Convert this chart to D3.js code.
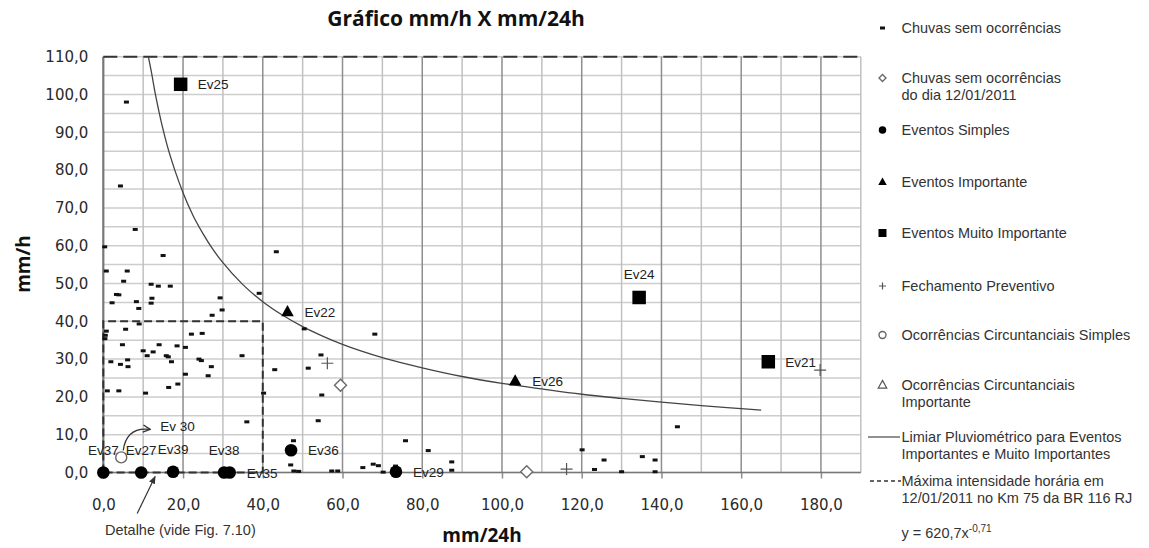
<!DOCTYPE html>
<html>
<head>
<meta charset="utf-8">
<script src="https://cdn.jsdelivr.net/npm/d3@7"></script>
<style>
  body { margin: 0; background: #fff; }
  svg { display: block; }
</style>
</head>
<body>
<div id="chart"></div>
<script>
// valores: [mm/24h, mm/h]
const chuvasSemOcorrencias = [
  [5.8, 98.0], [4.3, 75.8], [8.0, 64.3], [0.35, 59.7], [15.0, 57.4], [43.4, 58.4],
  [0.75, 53.3], [6.0, 53.3], [5.1, 50.6], [12.0, 49.8], [13.8, 49.3], [16.8, 49.3],
  [3.3, 47.1], [3.9, 47.0], [2.2, 44.9], [8.3, 45.2], [12.2, 46.1], [12.0, 44.8],
  [8.9, 43.4], [39.1, 47.4], [29.3, 46.2], [29.8, 43.0], [27.3, 41.6], [0.75, 37.4],
  [0.5, 36.3], [0.4, 35.4], [5.6, 37.9], [9.0, 39.3], [22.1, 36.6], [24.8, 36.8],
  [4.8, 33.8], [14.0, 33.8], [18.5, 33.5], [20.6, 33.1], [10.0, 32.2], [12.5, 31.9],
  [11.0, 30.9], [15.8, 30.9], [16.3, 30.6], [17.1, 29.3], [24.0, 30.0], [24.6, 29.6],
  [34.8, 30.9], [1.9, 29.3], [4.3, 28.6], [6.1, 29.8], [6.2, 28.0], [27.1, 28.0],
  [43.0, 27.2], [1.0, 21.6], [3.9, 21.6], [10.6, 21.0], [16.4, 22.5], [18.7, 23.4],
  [20.6, 26.0], [26.3, 25.6], [40.2, 21.0], [36.0, 13.4], [50.4, 38.0], [68.1, 36.6],
  [54.6, 31.1], [51.4, 27.6], [54.8, 20.5], [53.9, 13.7], [47.7, 8.4], [75.8, 8.4],
  [81.5, 5.8], [47.0, 2.0], [47.8, 0.4], [49.0, 0.3], [57.3, 0.4], [58.8, 0.4],
  [65.1, 1.3], [67.7, 2.2], [69.0, 1.8], [70.2, 0.1], [73.3, 1.7], [87.4, 0.6],
  [87.4, 2.8], [120.1, 6.0], [123.2, 0.8], [125.6, 3.3], [130.0, 0.2], [135.2, 4.2],
  [138.4, 3.3], [138.4, 0.2], [144.0, 12.1]
];
const chuvasDia12 = [[59.5, 23.1], [106.2, 0.2]];
const eventosSimples = [
  { nome: 'Ev37', x: 0.0, y: 0.0 }, { nome: 'Ev27', x: 9.5, y: 0.0 },
  { nome: 'Ev39', x: 17.5, y: 0.2 }, { nome: 'Ev38', x: 30.3, y: 0.0 },
  { nome: 'Ev35', x: 31.7, y: 0.0 }, { nome: 'Ev36', x: 47.1, y: 5.9 },
  { nome: 'Ev29', x: 73.4, y: 0.2 }
];
const eventosImportantes = [
  { nome: 'Ev22', x: 46.2, y: 42.5 }, { nome: 'Ev26', x: 103.3, y: 24.2 }
];
const eventosMuitoImportantes = [
  { nome: 'Ev25', x: 19.4, y: 102.7 }, { nome: 'Ev24', x: 134.4, y: 46.3 },
  { nome: 'Ev21', x: 166.8, y: 29.3 }
];
const fechamentoPreventivo = [[56.2, 28.9], [116.2, 0.9], [179.8, 27.1]];
const ocorrCircSimples = [{ nome: 'Ev 30', x: 4.5, y: 4.0 }];
const ocorrCircImportantes = [];

// limiar pluviometrico (curva y = 620,7x^-0,71) lida ponto a ponto
const limiarX = [11.3, 12, 13, 14, 15, 16, 18, 20, 22.5, 25, 27.5, 30, 35, 40, 45, 50,
  55, 60, 70, 80, 90, 100, 110, 120, 130, 140, 150, 160, 165];
const limiarY = [110.0, 106.3, 100.4, 95.3, 90.7, 86.6, 79.8, 74.0, 68.0, 63.2, 59.0, 55.5,
  49.7, 45.2, 41.6, 38.6, 36.1, 33.9, 30.4, 27.7, 25.4, 23.6, 22.1, 20.7, 19.6, 18.6,
  17.7, 16.9, 16.5];

const maxIntensidadeHoraria = 110.0;
const detalheLimite = 40.0;
const xTicks = [0, 20, 40, 60, 80, 100, 120, 140, 160, 180];
const yTicks = [0, 10, 20, 30, 40, 50, 60, 70, 80, 90, 100, 110];

const legendaItens = [
  { tipo: 'dash', linhas: ['Chuvas sem ocorrências'] },
  { tipo: 'diamond', linhas: ['Chuvas sem ocorrências', 'do dia 12/01/2011'] },
  { tipo: 'circle', linhas: ['Eventos Simples'] },
  { tipo: 'triangle', linhas: ['Eventos Importante'] },
  { tipo: 'square', linhas: ['Eventos Muito Importante'] },
  { tipo: 'plus', linhas: ['Fechamento Preventivo'] },
  { tipo: 'opencircle', linhas: ['Ocorrências Circuntanciais Simples'] },
  { tipo: 'opentriangle', linhas: ['Ocorrências Circuntanciais', 'Importante'] },
  { tipo: 'line', linhas: ['Limiar Pluviométrico para Eventos', 'Importantes e Muito Importantes'] },
  { tipo: 'dashline', linhas: ['Máxima intensidade horária em', '12/01/2011 no Km 75 da BR 116 RJ'] }
];

class GraficoChuva {
  constructor() {
    this.svg = null;
    this.x = d3.scaleLinear().domain([0, 190]).range([103.3, 860.8]);
    this.y = d3.scaleLinear().domain([0, 110]).range([472.5, 56.7]);
    this.fmt = d => d.toFixed(1).replace('.', ',');
  }

  // desenha um simbolo centrado em 0,0 dentro de g
  marker(g, tipo, s) {
    if (tipo === 'dash') {
      g.append('rect').attr('x', -s / 2).attr('y', -s * 0.3).attr('width', s).attr('height', s * 0.6).attr('fill', '#111');
    } else if (tipo === 'diamond') {
      g.append('path').attr('d', `M0,${-s / 2}L${s / 2},0L0,${s / 2}L${-s / 2},0Z`)
        .attr('fill', '#fff').attr('stroke', '#6a6a6a').attr('stroke-width', 1.4);
    } else if (tipo === 'circle') {
      g.append('circle').attr('r', s / 2).attr('fill', '#000');
    } else if (tipo === 'opencircle') {
      g.append('circle').attr('r', s / 2).attr('fill', '#fff').attr('stroke', '#666').attr('stroke-width', 1.4);
    } else if (tipo === 'triangle' || tipo === 'opentriangle') {
      const h = s * 0.9;
      const p = g.append('path').attr('d', `M0,${-h * 0.6}L${s / 2},${h * 0.4}L${-s / 2},${h * 0.4}Z`);
      if (tipo === 'triangle') p.attr('fill', '#000');
      else p.attr('fill', '#fff').attr('stroke', '#555').attr('stroke-width', 1.2);
    } else if (tipo === 'square') {
      g.append('rect').attr('x', -s / 2).attr('y', -s / 2).attr('width', s).attr('height', s).attr('fill', '#000');
    } else if (tipo === 'plus') {
      g.append('path').attr('d', `M${-s / 2},0H${s / 2}M0,${-s / 2}V${s / 2}`)
        .attr('stroke', '#555').attr('stroke-width', 1.2).attr('fill', 'none');
    }
  }

  render() {
    console.log('render grafico');
    const x = this.x, y = this.y;
    const svg = d3.select('#chart').append('svg')
      .attr('width', 1149).attr('height', 548)
      .style('font-family', '"Liberation Sans", Arial, sans-serif');
    this.svg = svg;

    const defs = svg.append('defs');
    defs.append('marker').attr('id', 'seta-aberta').attr('viewBox', '0 0 10 10')
      .attr('refX', 9).attr('refY', 5).attr('markerWidth', 9).attr('markerHeight', 9)
      .attr('markerUnits', 'userSpaceOnUse').attr('orient', 'auto')
      .append('path').attr('d', 'M1,1L9,5L1,9').attr('fill', 'none').attr('stroke', '#333').attr('stroke-width', 1.5);
    defs.append('marker').attr('id', 'seta-cheia').attr('viewBox', '0 0 10 10')
      .attr('refX', 9).attr('refY', 5).attr('markerWidth', 8).attr('markerHeight', 8)
      .attr('markerUnits', 'userSpaceOnUse').attr('orient', 'auto')
      .append('path').attr('d', 'M0,1L10,5L0,9Z').attr('fill', '#333');

    // grade
    const grid = svg.append('g');
    grid.selectAll('.hgrid').data(d3.range(0, 111, 5)).enter().append('line')
      .attr('x1', x(0)).attr('x2', x(190))
      .attr('y1', d => y(d)).attr('y2', d => y(d))
      .attr('stroke', '#cdcdcd').attr('stroke-width', 1.5);
    grid.selectAll('.vgrid').data(d3.range(10, 191, 10)).enter().append('line')
      .attr('x1', d => x(d)).attr('x2', d => x(d))
      .attr('y1', y(0)).attr('y2', y(110))
      .attr('stroke', d => d % 20 === 0 ? '#8e8e8e' : '#c0c0c0').attr('stroke-width', 1.5);

    // eixos
    const xAxis = svg.append('g').attr('transform', `translate(0,${y(0)})`)
      .call(d3.axisBottom(x).tickValues(xTicks).tickSize(6).tickPadding(21).tickFormat(this.fmt));
    xAxis.select('.domain').remove();
    xAxis.selectAll('line').attr('stroke', '#8e8e8e').attr('stroke-width', 1.5);
    xAxis.selectAll('text').attr('fill', '#2a2a2a')
      .style('font-family', '"DejaVu Sans", sans-serif').style('font-size', '15px');

    const yAxis = svg.append('g').attr('transform', `translate(${x(0)},0)`)
      .call(d3.axisLeft(y).tickValues(yTicks).tickSize(0).tickPadding(15).tickFormat(this.fmt));
    yAxis.select('.domain').remove();
    yAxis.selectAll('text').attr('fill', '#2a2a2a')
      .style('font-family', '"DejaVu Sans", sans-serif').style('font-size', '15px');

    svg.append('line').attr('x1', x(0)).attr('x2', x(190)).attr('y1', y(0)).attr('y2', y(0))
      .attr('stroke', '#777').attr('stroke-width', 1.5);
    svg.append('line').attr('x1', x(0)).attr('x2', x(0)).attr('y1', y(0)).attr('y2', y(110))
      .attr('stroke', '#777').attr('stroke-width', 2.2);

    // area de detalhe 0-40
    svg.append('path')
      .attr('d', `M${x(0)},${y(0)}V${y(detalheLimite)}H${x(detalheLimite)}V${y(0)}Z`)
      .attr('fill', 'none').attr('stroke', '#333').attr('stroke-width', 2).attr('stroke-dasharray', '8,4');

    // maxima intensidade
    svg.append('line').attr('x1', x(0)).attr('x2', x(190))
      .attr('y1', y(maxIntensidadeHoraria)).attr('y2', y(maxIntensidadeHoraria))
      .attr('stroke', '#333').attr('stroke-width', 2).attr('stroke-dasharray', '14,6');

    // limiar
    const limiar = limiarX.map((v, i) => [v, limiarY[i]]);
    svg.append('path').datum(limiar)
      .attr('d', d3.line().x(d => x(d[0])).y(d => y(d[1])).curve(d3.curveMonotoneX))
      .attr('fill', 'none').attr('stroke', '#444').attr('stroke-width', 1.3);

    // pontos
    const plot = (dados, tipo, s) => {
      svg.append('g').selectAll('g').data(dados).enter().append('g')
        .attr('transform', d => {
          const px = Array.isArray(d) ? d[0] : d.x, py = Array.isArray(d) ? d[1] : d.y;
          return `translate(${x(px)},${y(py)})`;
        })
        .each((d, i, n) => this.marker(d3.select(n[i]), tipo, s));
    };
    plot(chuvasSemOcorrencias, 'dash', 5);
    plot(chuvasDia12, 'diamond', 12);
    plot(fechamentoPreventivo, 'plus', 12);
    plot(ocorrCircSimples, 'opencircle', 11);
    plot(ocorrCircImportantes, 'opentriangle', 12);
    plot(eventosSimples, 'circle', 12.6);
    plot(eventosImportantes, 'triangle', 12.5);
    plot(eventosMuitoImportantes, 'square', 13.5);

    // rotulos dos eventos
    const acima = ['Ev37', 'Ev27', 'Ev39', 'Ev38', 'Ev24'];
    const eventos = eventosSimples.concat(eventosImportantes, eventosMuitoImportantes);
    svg.append('g').selectAll('text').data(eventos).enter().append('text')
      .attr('x', d => acima.includes(d.nome) ? x(d.x) : x(d.x) + 17)
      .attr('y', d => acima.includes(d.nome) ? y(d.y) - 18 : y(d.y) + 5)
      .attr('text-anchor', d => acima.includes(d.nome) ? 'middle' : 'start')
      .attr('fill', '#222').style('font-size', '13.5px')
      .text(d => d.nome);

    // Ev 30 com seta curva
    ocorrCircSimples.forEach(d => {
      const cx = x(d.x), cy = y(d.y);
      svg.append('path')
        .attr('d', `M${cx + 2},${cy - 7}C${cx + 4},${cy - 22} ${cx + 12},${cy - 30} ${cx + 29},${cy - 28}`)
        .attr('fill', 'none').attr('stroke', '#333').attr('stroke-width', 1.3)
        .attr('marker-end', 'url(#seta-aberta)');
      svg.append('text').attr('x', cx + 39).attr('y', cy - 26)
        .attr('fill', '#222').style('font-size', '13.5px').text(d.nome);
    });

    // detalhe
    svg.append('line').attr('x1', x(8.5)).attr('y1', y(0) + 41).attr('x2', x(13)).attr('y2', y(0) + 4)
      .attr('stroke', '#333').attr('stroke-width', 1.2).attr('marker-end', 'url(#seta-cheia)');
    svg.append('text').attr('x', 105).attr('y', 535).attr('fill', '#333')
      .style('font-size', '14.5px').text('Detalhe (vide Fig. 7.10)');

    // titulos
    svg.append('text').attr('x', 456).attr('y', 26).attr('text-anchor', 'middle')
      .style('font-family', '"Open Sans", sans-serif').style('font-weight', 'bold').style('font-size', '21px')
      .attr('fill', '#111').text('Gráfico mm/h X mm/24h');
    svg.append('text').attr('x', (x(0) + x(190)) / 2).attr('y', 542).attr('text-anchor', 'middle')
      .style('font-family', '"Open Sans", sans-serif').style('font-weight', 'bold').style('font-size', '19px')
      .attr('fill', '#111').text('mm/24h');
    svg.append('text').attr('transform', 'translate(30,264) rotate(-90)').attr('text-anchor', 'middle')
      .style('font-family', '"Open Sans", sans-serif').style('font-weight', 'bold').style('font-size', '19px')
      .attr('fill', '#111').text('mm/h');

    this.renderLegenda();
  }

  renderLegenda() {
    const svg = this.svg;
    const linhaY = [28, 78, 130, 182, 233, 286, 335, 385, 437, 481];
    const simX = 882.5, txtX = 901.5;
    const leg = svg.append('g').style('font-size', '14.5px').attr('fill', '#333');
    legendaItens.forEach((item, i) => {
      const cy = linhaY[i];
      if (item.tipo === 'line') {
        leg.append('line').attr('x1', 868).attr('x2', 900).attr('y1', cy).attr('y2', cy)
          .attr('stroke', '#555').attr('stroke-width', 1.3);
      } else if (item.tipo === 'dashline') {
        leg.append('line').attr('x1', 870).attr('x2', 901).attr('y1', cy).attr('y2', cy)
          .attr('stroke', '#333').attr('stroke-width', 1.3).attr('stroke-dasharray', '4,3');
      } else {
        const g = leg.append('g').attr('transform', `translate(${simX},${cy})`);
        const tam = { dash: 5, diamond: 7, circle: 7.5, triangle: 8.5, square: 8, plus: 7, opencircle: 7, opentriangle: 8.5 };
        this.marker(g, item.tipo, tam[item.tipo]);
      }
      item.linhas.forEach((t, k) => {
        leg.append('text').attr('x', txtX).attr('y', cy + 5 + k * 17).text(t);
      });
    });
    const eq = leg.append('text').attr('x', txtX).attr('y', 538);
    eq.append('tspan').text('y = 620,7x');
    eq.append('tspan').attr('dy', -6).style('font-size', '10px').text('-0,71');
  }
}

const grafico = new GraficoChuva();
grafico.render();
</script>
</body>
</html>
